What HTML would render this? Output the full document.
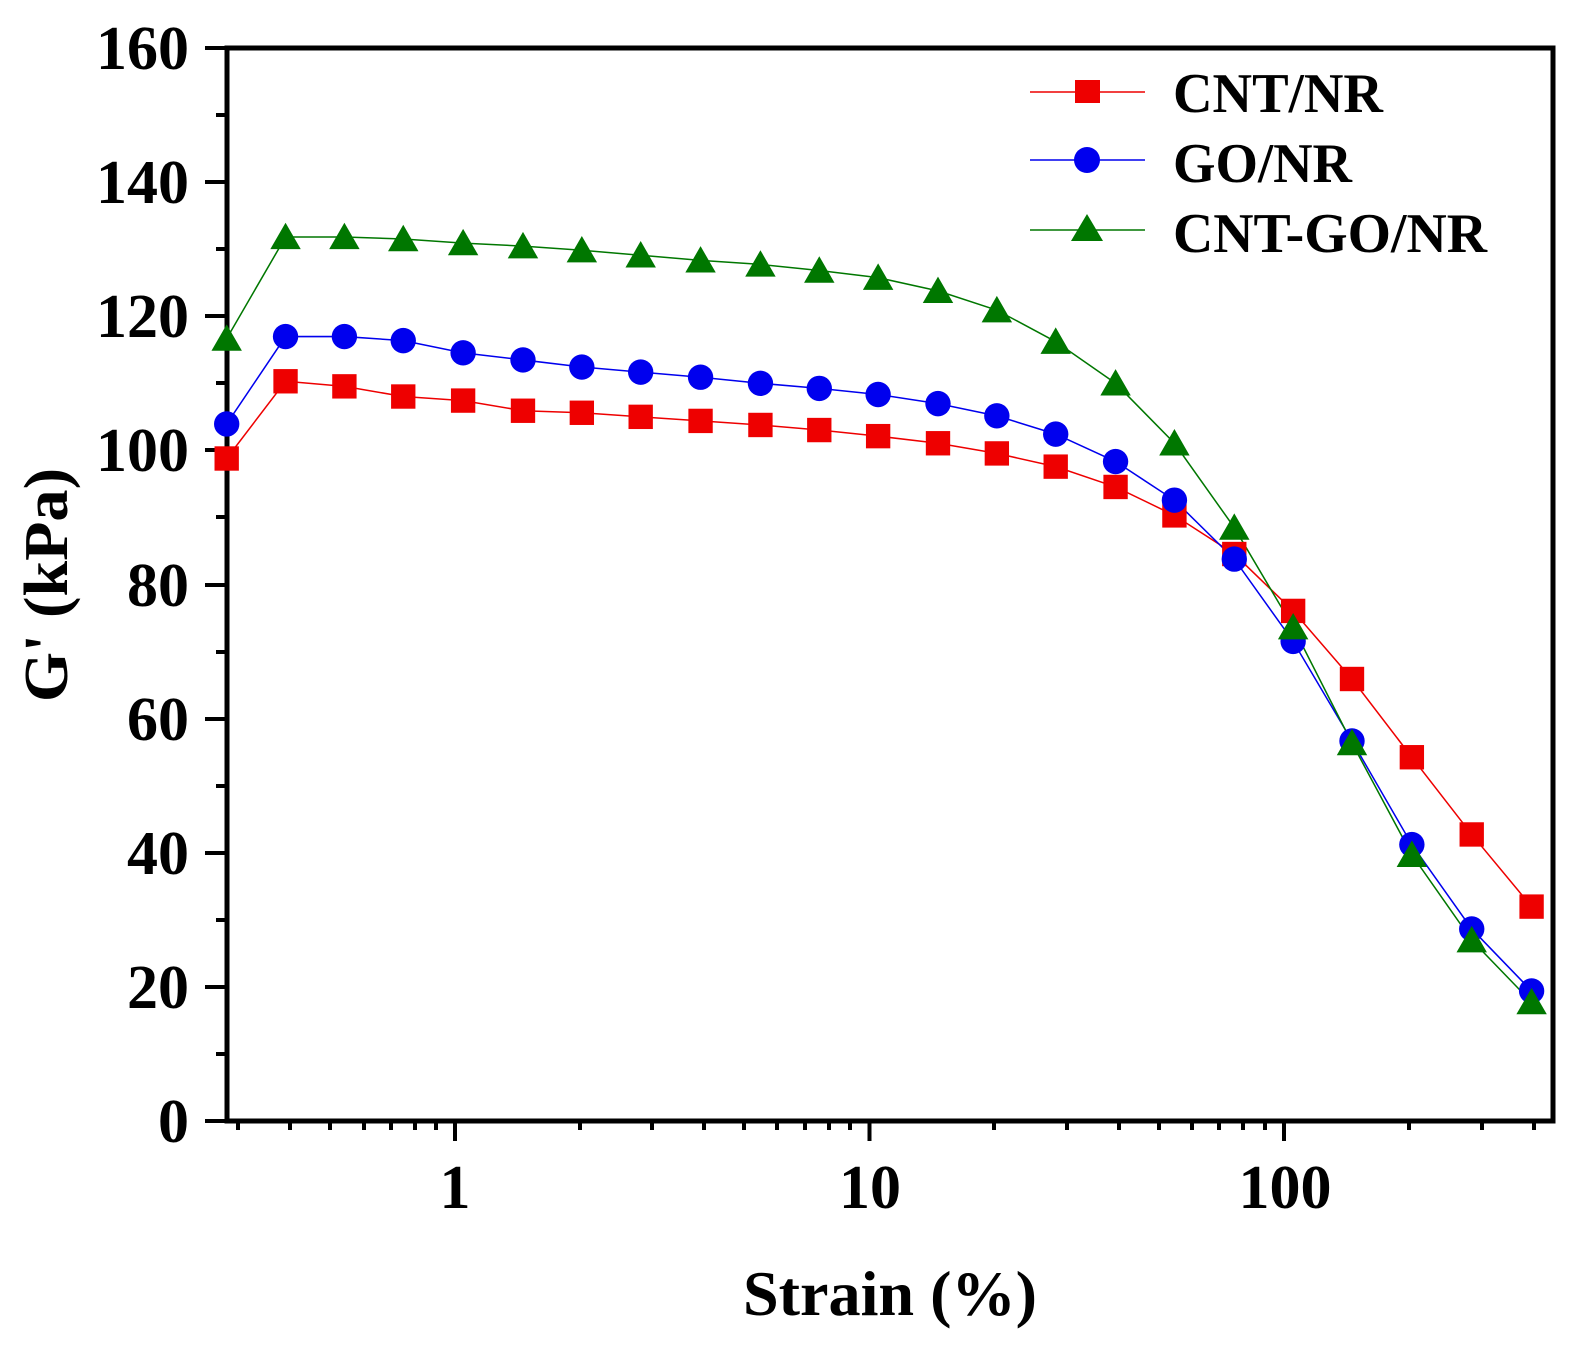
<!DOCTYPE html>
<html><head><meta charset="utf-8"><style>body{margin:0;background:#fff}</style></head><body>
<svg width="1593" height="1344" xmlns="http://www.w3.org/2000/svg" font-family="Liberation Serif, serif" font-weight="bold">
<rect width="1593" height="1344" fill="#fff"/>
<g stroke="#000" stroke-width="4">
<path d="M205 48h22M205 182h22M205 316h22M205 450h22M205 585h22M205 719h22M205 853h22M205 987h22M205 1121h22"/>
<path d="M216 115h11M216 249h11M216 383h11M216 517h11M216 652h11M216 786h11M216 920h11M216 1054h11"/>
<path d="M455 1121v20M869.5 1121v20M1284 1121v20"/>
<path d="M238 1121v9M290 1121v9M330 1121v9M364 1121v9M391 1121v9M415 1121v9M436 1121v9
M580 1121v9M652 1121v9M704 1121v9M744 1121v9M777 1121v9M805 1121v9M829 1121v9M850 1121v9
M994 1121v9M1067 1121v9M1119 1121v9M1159 1121v9M1192 1121v9M1219 1121v9M1243 1121v9M1265 1121v9
M1409 1121v9M1482 1121v9M1534 1121v9"/>
</g>
<rect x="227" y="48" width="1326" height="1073" fill="none" stroke="#000" stroke-width="5"/>
<g font-size="62" text-anchor="end">
<text x="189" y="69">160</text><text x="189" y="203">140</text><text x="189" y="337">120</text><text x="189" y="471">100</text>
<text x="189" y="606">80</text><text x="189" y="740">60</text><text x="189" y="874">40</text><text x="189" y="1008">20</text><text x="189" y="1142">0</text>
</g>
<g font-size="62" text-anchor="middle">
<text x="455" y="1208">1</text><text x="870" y="1208">10</text><text x="1285" y="1208">100</text>
</g>
<text x="743" y="1315" font-size="64" textLength="294" lengthAdjust="spacingAndGlyphs">Strain (%)</text>
<text transform="translate(67,702) rotate(-90)" font-size="62" textLength="234" lengthAdjust="spacingAndGlyphs">G' (kPa)</text>
<g transform="matrix(1.0147 0 0 1.0161 -0.6 0.24)">
<polyline fill="none" stroke="#e00" stroke-width="1.5" points="224,451 282,375 340,380 398,390 457,394 516,404 574,406 632,410 691,414 750,418 808,423 866,429 925,436 983,446 1041,459 1100,479 1158,507 1217,545 1275,601 1333,668 1392,745 1451,821 1510,892"/>
<polyline fill="none" stroke="#00e" stroke-width="1.5" points="224,417 282,331 340,331 398,335 457,347 516,354 574,361 632,366 691,371 750,377 808,382 866,388 925,397 983,409 1041,427 1100,454 1158,492 1217,550 1275,631 1333,729 1392,831 1451,914 1510,975"/>
<polyline fill="none" stroke="#070" stroke-width="1.5" points="224,333 282,233 340,233 398,235 457,239 516,242 574,246 632,251 691,256 750,260 808,266 866,273 925,286 983,305 1041,336 1100,377 1158,436 1217,519 1275,617 1333,731 1392,841 1451,925 1510,986"/>
<g fill="#e00">
<rect x="212" y="439" width="24" height="24"/><rect x="270" y="363" width="24" height="24"/><rect x="328" y="368" width="24" height="24"/><rect x="386" y="378" width="24" height="24"/><rect x="445" y="382" width="24" height="24"/><rect x="504" y="392" width="24" height="24"/><rect x="562" y="394" width="24" height="24"/><rect x="620" y="398" width="24" height="24"/><rect x="679" y="402" width="24" height="24"/><rect x="738" y="406" width="24" height="24"/><rect x="796" y="411" width="24" height="24"/><rect x="854" y="417" width="24" height="24"/><rect x="913" y="424" width="24" height="24"/><rect x="971" y="434" width="24" height="24"/><rect x="1029" y="447" width="24" height="24"/><rect x="1088" y="467" width="24" height="24"/><rect x="1146" y="495" width="24" height="24"/><rect x="1205" y="533" width="24" height="24"/><rect x="1263" y="589" width="24" height="24"/><rect x="1321" y="656" width="24" height="24"/><rect x="1380" y="733" width="24" height="24"/><rect x="1439" y="809" width="24" height="24"/><rect x="1498" y="880" width="24" height="24"/>
</g>
<g fill="#00e">
<circle cx="224" cy="417" r="12.5"/><circle cx="282" cy="331" r="12.5"/><circle cx="340" cy="331" r="12.5"/><circle cx="398" cy="335" r="12.5"/><circle cx="457" cy="347" r="12.5"/><circle cx="516" cy="354" r="12.5"/><circle cx="574" cy="361" r="12.5"/><circle cx="632" cy="366" r="12.5"/><circle cx="691" cy="371" r="12.5"/><circle cx="750" cy="377" r="12.5"/><circle cx="808" cy="382" r="12.5"/><circle cx="866" cy="388" r="12.5"/><circle cx="925" cy="397" r="12.5"/><circle cx="983" cy="409" r="12.5"/><circle cx="1041" cy="427" r="12.5"/><circle cx="1100" cy="454" r="12.5"/><circle cx="1158" cy="492" r="12.5"/><circle cx="1217" cy="550" r="12.5"/><circle cx="1275" cy="631" r="12.5"/><circle cx="1333" cy="729" r="12.5"/><circle cx="1392" cy="831" r="12.5"/><circle cx="1451" cy="914" r="12.5"/><circle cx="1510" cy="975" r="12.5"/>
</g>
<g fill="#070">
<path d="M224 319l15 26h-30z M282 219l15 26h-30z M340 219l15 26h-30z M398 221l15 26h-30z M457 225l15 26h-30z M516 228l15 26h-30z M574 232l15 26h-30z M632 237l15 26h-30z M691 242l15 26h-30z M750 246l15 26h-30z M808 252l15 26h-30z M866 259l15 26h-30z M925 272l15 26h-30z M983 291l15 26h-30z M1041 322l15 26h-30z M1100 363l15 26h-30z M1158 422l15 26h-30z M1217 505l15 26h-30z M1275 603l15 26h-30z M1333 717l15 26h-30z M1392 827l15 26h-30z M1451 911l15 26h-30z M1510 972l15 26h-30z"/>
</g>
</g>
<g stroke-width="1.5">
<line x1="1030" y1="92" x2="1145" y2="92" stroke="#e00"/>
<line x1="1030" y1="160" x2="1145" y2="160" stroke="#00e"/>
<line x1="1030" y1="230" x2="1145" y2="230" stroke="#070"/>
</g>
<rect x="1075" y="80" width="25" height="23" fill="#e00"/>
<circle cx="1087" cy="160" r="13" fill="#00e"/>
<path d="M1087 214l16 27h-32z" fill="#070"/>
<g font-size="56">
<text x="1173" y="112" textLength="210" lengthAdjust="spacingAndGlyphs">CNT/NR</text>
<text x="1173" y="182" textLength="179" lengthAdjust="spacingAndGlyphs">GO/NR</text>
<text x="1173" y="252" textLength="314" lengthAdjust="spacingAndGlyphs">CNT-GO/NR</text>
</g>
</svg>
</body></html>
